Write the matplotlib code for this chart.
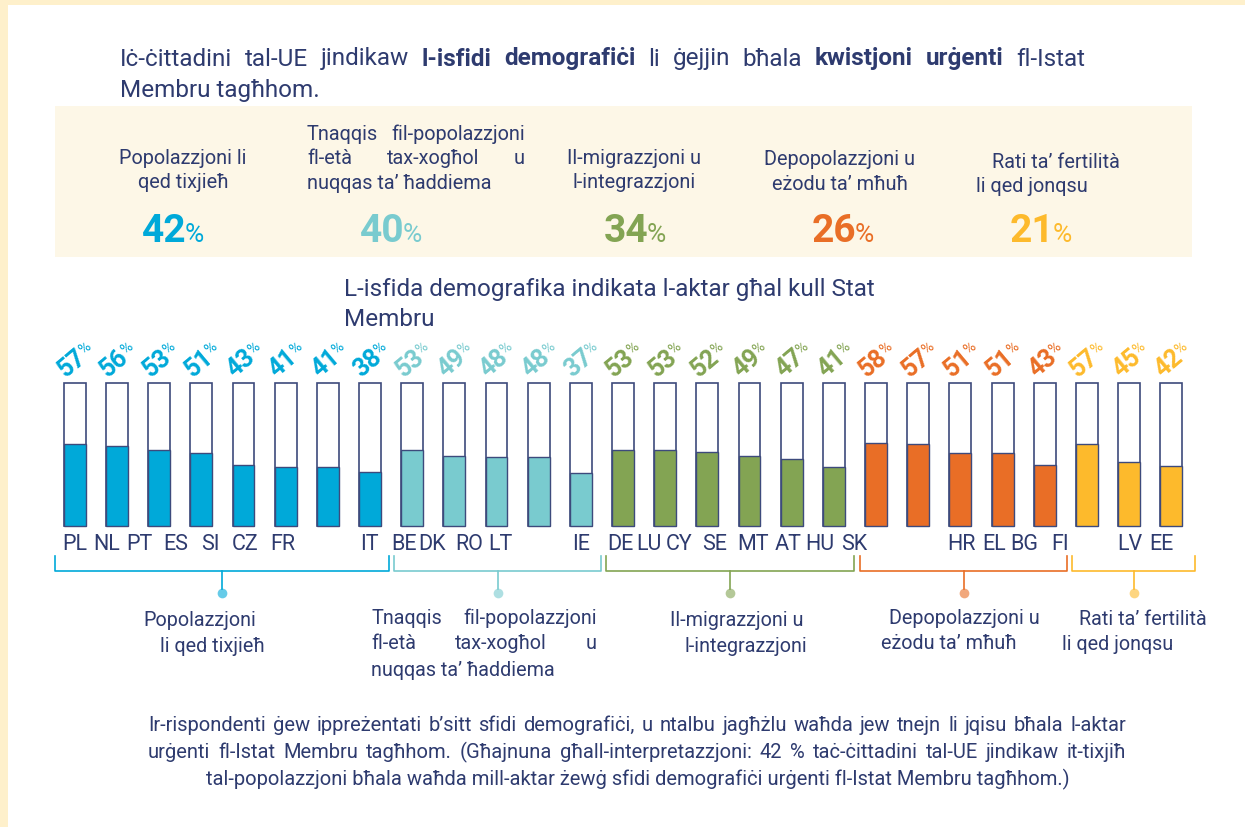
import matplotlib
matplotlib.use('Agg')
import matplotlib.pyplot as plt
import matplotlib.transforms as mtransforms
from matplotlib.patches import Rectangle
import numpy as np

plt.rcParams['font.family'] = ['Roboto', 'DejaVu Sans']

NAVY = '#2e3b6f'
EDGE = '#3d4a7c'

# --- data ---
challenges = ['Popolazzjoni li\nqed tixjieħ',
              'Tnaqqis fil-popolazzjoni\nfl-età tax-xogħol u\nnuqqas ta’ ħaddiema',
              'Il-migrazzjoni u\nl-integrazzjoni',
              'Depopolazzjoni u\neżodu ta’ mħuħ',
              'Rati ta’ fertilità\nli qed jonqsu']
eu_share = [42, 40, 34, 26, 21]
group_colors = ['#00a9d9', '#79cbcf', '#83a453', '#e96e26', '#fdba2c']

countries = ['PL', 'NL', 'PT', 'ES', 'SI', 'CZ', 'FR', 'IT',
             'BE', 'DK', 'RO', 'LT', 'IE',
             'DE', 'LU', 'CY', 'SE', 'MT', 'AT', 'HU', 'SK',
             'HR', 'EL', 'BG', 'FI',
             'LV', 'EE']
values = [57, 56, 53, 51, 43, 41, 41, 38,
          53, 49, 48, 48, 37,
          53, 53, 52, 49, 47, 41,
          58, 57, 51, 51, 43,
          57, 45, 42]
group_sizes = [8, 5, 6, 5, 3]

# where the labels sit in the picture (pixels)
label_x = [75, 107, 139, 176, 210, 245, 283, 369,
           404, 432, 469, 500, 581,
           620, 649, 679, 715, 753, 788, 820, 854,
           961, 994, 1024, 1060,
           1130, 1161]
bracket_spans = [(55, 389), (394, 601), (606, 854), (860, 1067), (1072, 1195)]

bar_colors = []
for c, n in zip(group_colors, group_sizes):
    bar_colors += [c] * n

fig = plt.figure(figsize=(12.45, 8.28), dpi=100)
deco = fig.add_axes([0, 0, 1, 1])
deco.set_xlim(0, 1245)
deco.set_ylim(828, 0)
deco.axis('off')
r = fig.canvas.get_renderer()


def tw(s, **kw):
    t = deco.text(0, 0, s, **kw)
    w = t.get_window_extent(r).width
    t.remove()
    return w


def words_line(x, y, parts, size, x1=None, color=NAVY):
    items = [(w, wt) for s, wt in parts for w in s.split()]
    widths = [tw(w, fontsize=size, fontweight=wt) for w, wt in items]
    if x1 is None:
        gap = tw('a a', fontsize=size) - tw('aa', fontsize=size)
    else:
        gap = (x1 - x - sum(widths)) / (len(items) - 1)
    for (w, wt), wd in zip(items, widths):
        deco.text(x, y, w, fontsize=size, fontweight=wt, color=color, ha='left', va='baseline')
        x += wd + gap


# frame
deco.add_patch(Rectangle((0, 0), 1245, 6, color='#fef0cb', lw=0))
deco.add_patch(Rectangle((0, 0), 8, 828, color='#fef0cb', lw=0))

# title
TS = 17.5
words_line(120, 65.5, [('Iċ-ċittadini tal-UE jindikaw', 'normal'), ('l-isfidi demografiċi', 'bold'),
                       ('li ġejjin bħala', 'normal'), ('kwistjoni urġenti', 'bold'),
                       ('fl-Istat', 'normal')], TS, x1=1085)
deco.text(120, 96.5, 'Membru tagħhom.', fontsize=TS, color=NAVY, va='baseline')

# summary box
BS = 14.3
deco.add_patch(Rectangle((55, 107), 1137, 151, color='#fdf7e7', lw=0))
col_x = [183, 415, 634, 840, 1050]
col_y = [164, 140, 164, 165, 168]
pct_x = [173, 391, 635, 843, 1041]
for k, (name, share, c) in enumerate(zip(challenges, eu_share, group_colors)):
    lines = name.split('\n')
    for j, ln in enumerate(lines):
        y = col_y[k] + 24.5 * j
        if k == 1 and j < len(lines) - 1:
            words_line(307, y, [(ln, 'normal')], BS, x1=525)
        elif k == 1:
            deco.text(307, y, ln, fontsize=BS, color=NAVY, va='baseline')
        elif k == 4:
            deco.text([992, 976][j], y, ln, fontsize=BS, color=NAVY, va='baseline')
        else:
            deco.text(col_x[k], y, ln, fontsize=BS, color=NAVY, ha='center', va='baseline')
    w1 = tw(str(share), fontsize=28, fontweight='bold')
    w2 = tw('%', fontsize=19)
    x0 = pct_x[k] - (w1 + w2 - 2) / 2
    deco.text(x0, 242, str(share), fontsize=28, fontweight='bold', color=c, va='baseline')
    deco.text(x0 + w1 - 2, 242, '%', fontsize=19, color=c, va='baseline')

# subtitle
deco.text(344, 296.5, 'L-isfida demografika indikata l-aktar għal kull Stat', fontsize=TS, color=NAVY, va='baseline')
deco.text(344, 326.5, 'Membru', fontsize=TS, color=NAVY, va='baseline')

# bars
pitch = 42.17
left_px = 74.8 - pitch / 2
ax = fig.add_axes([left_px / 1245, (828 - 527) / 828, 27 * pitch / 1245, 143 / 828])
x = np.arange(len(values))
frames = ax.bar(x, [100] * len(values), width=0.52, color='white', edgecolor=EDGE, lw=1.2)
fills = ax.bar(x, values, width=0.52, color=bar_colors, edgecolor=EDGE, lw=1.0)
for p in list(frames) + list(fills):
    p.set_clip_on(False)
ax.set_xlim(-0.5, len(values) - 0.5)
ax.set_ylim(0, 100)
ax.axis('off')

ang = np.radians(40)
for i, (v, c) in enumerate(zip(values, bar_colors)):
    ax.text(i - 0.21, 104, str(v), rotation=40, rotation_mode='anchor', ha='left', va='baseline',
            fontsize=18, fontweight='bold', color=c, clip_on=False)
    w = tw(str(v), fontsize=18, fontweight='bold')
    dx = w * np.cos(ang) - 6 * np.sin(ang)
    dy = w * np.sin(ang) + 6 * np.cos(ang)
    tr = mtransforms.offset_copy(ax.transData, fig=fig, x=dx - 1, y=dy, units='dots')
    ax.text(i - 0.21, 104, '%', transform=tr, rotation=40, rotation_mode='anchor', ha='left',
            va='baseline', fontsize=11, color=c, clip_on=False)

for cc, lx in zip(countries, label_x):
    deco.text(lx, 550, cc, fontsize=15.5, color=NAVY, ha='center', va='baseline')

# brackets
for (a, b), c in zip(bracket_spans, group_colors):
    m = (a + b) / 2
    deco.plot([a, a, b, b], [557, 572, 572, 557], color=c, lw=1.2)
    deco.plot([m, m], [572, 590], color=c, lw=1.2)
    deco.plot(m, 594, 'o', color=c, ms=7, alpha=0.6, mec='none')

GS = 14.2
deco.text(143, 626, 'Popolazzjoni', fontsize=GS, color=NAVY, va='baseline')
deco.text(160, 652, 'li qed tixjieħ', fontsize=GS, color=NAVY, va='baseline')
words_line(371, 624, [('Tnaqqis fil-popolazzjoni', 'normal')], GS, x1=597)
words_line(371, 649, [('fl-età tax-xogħol u', 'normal')], GS, x1=597)
deco.text(371, 676, 'nuqqas ta’ ħaddiema', fontsize=GS, color=NAVY, va='baseline')
deco.text(670, 626, 'Il-migrazzjoni u', fontsize=GS, color=NAVY, va='baseline')
deco.text(685, 652, 'l-integrazzjoni', fontsize=GS, color=NAVY, va='baseline')
deco.text(889, 624, 'Depopolazzjoni u', fontsize=GS, color=NAVY, va='baseline')
deco.text(881, 649, 'eżodu ta’ mħuħ', fontsize=GS, color=NAVY, va='baseline')
deco.text(1079, 625, 'Rati ta’ fertilità', fontsize=GS, color=NAVY, va='baseline')
deco.text(1062, 650, 'li qed jonqsu', fontsize=GS, color=NAVY, va='baseline')

# footnote
FS = 14.5
words_line(148, 731.5, [('Ir-rispondenti ġew ippreżentati b’sitt sfidi demografiċi, u ntalbu jagħżlu '
                         'waħda jew tnejn li jqisu bħala l-aktar', 'normal')], FS, x1=1126)
words_line(148, 758.5, [('urġenti fl-Istat Membru tagħhom. (Għajnuna għall-interpretazzjoni: 42 % '
                         'taċ-ċittadini tal-UE jindikaw it-tixjiħ', 'normal')], FS, x1=1126)
deco.text(638, 785, 'tal-popolazzjoni bħala waħda mill-aktar żewġ sfidi demografiċi urġenti '
          'fl-Istat Membru tagħhom.)', fontsize=FS, color=NAVY, ha='center', va='baseline')

fig.savefig('out.png', dpi=100)
